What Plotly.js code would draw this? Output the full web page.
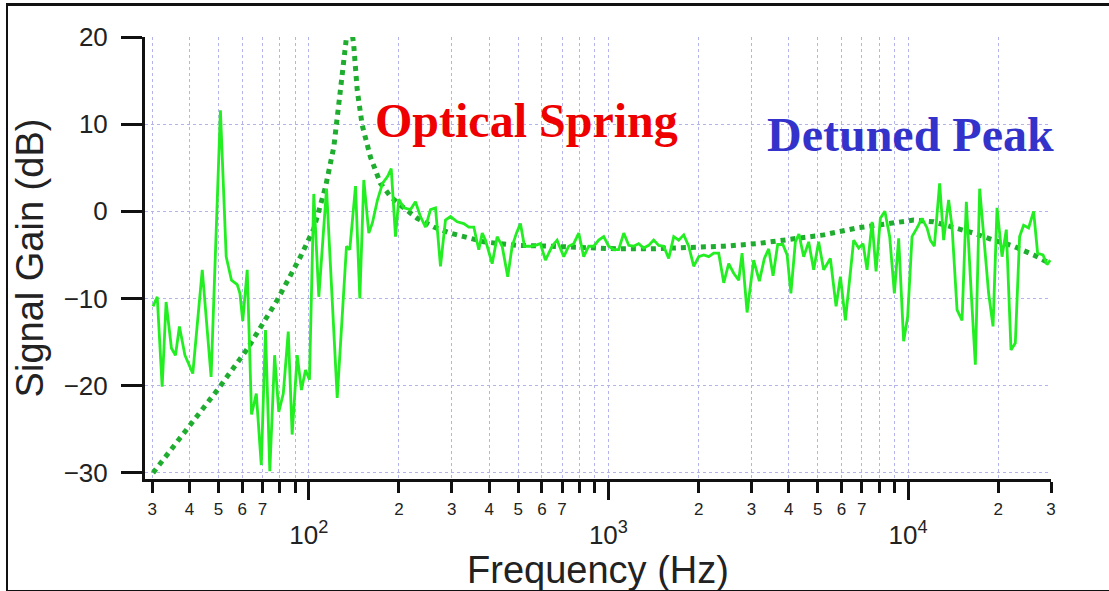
<!DOCTYPE html>
<html>
<head>
<meta charset="utf-8">
<script src="https://cdn.plot.ly/plotly-3.0.1.min.js"></script>
<style>
  html, body { margin: 0; padding: 0; background: #fff; }
  #wrap { position: relative; width: 1109px; height: 591px; overflow: hidden; }
  #chart { position: absolute; left: 0; top: 0; width: 1109px; height: 591px; }
  #frame { position: absolute; left: 6px; top: 3px; width: 1120px; height: 584px;
           border-top: 3px solid #111; border-left: 2px solid #111; border-bottom: 2px solid #111;
           pointer-events: none; }
</style>
</head>
<body>
<div id="wrap">
  <div id="chart"></div>
  <div id="frame"></div>
</div>
<script>
// Measured signal gain (green solid line)
const freqMeas = [30.2, 31.2, 32.4, 33.4, 34.8, 35.9, 37.0, 38.6, 41.0, 44.1, 47.2, 50.7, 53.0, 55.2, 57.7, 58.9, 60.2, 62.3, 64.4, 66.8,
  69.4, 71.7, 74.1, 76.9, 79.4, 82.2, 85.4, 88.0, 91.5, 94.5, 97.5, 100.5, 103.9, 108.0, 114.6, 124.4, 133.6, 137.0, 143.2, 148.0,
  152.6, 158.6, 163.1, 169.5, 176.2, 183.1, 188.4, 194.7, 199.7, 207.5, 218.5, 227.0, 235.9, 245.2, 254.8, 264.8, 275.1, 285.9, 297.1, 312.8,
  329.1, 342.0, 355.4, 369.3, 379.1, 388.8, 409.3, 425.3, 442.0, 461.3, 477.2, 493.2, 508.6, 524.5, 549.2, 570.7, 593.0, 616.2, 648.7, 674.1,
  709.4, 737.0, 766.0, 796.0, 827.1, 859.5, 893.2, 928.2, 964.5, 1002, 1042, 1082, 1125, 1169, 1214, 1262, 1311, 1363, 1416, 1472,
  1530, 1589, 1652, 1716, 1784, 1854, 1926, 2002, 2080, 2162, 2246, 2334, 2426, 2520, 2619, 2722, 2793, 2903, 3053, 3190,
  3315, 3427, 3544, 3672, 3821, 3948, 4064, 4207, 4322, 4485, 4660, 4842, 5031, 5229, 5505, 5752, 5946, 6179, 6586, 6843,
  7077, 7299, 7585, 7821, 8085, 8369, 8683, 9003, 9304, 9667, 9970, 10311, 10715, 11135, 11571, 11868, 12240, 12747, 13146, 13660,
  14026, 14575, 15144, 15652, 16229, 16774, 17339, 17976, 18577, 19217, 19815, 20591, 21281, 22063, 22803, 23570, 24305, 25259, 26249, 27067,
  28213, 29097, 29843];
const gainMeas = [-10.9, -9.8, -20.1, -10.4, -15.7, -16.5, -13.2, -16.5, -18.6, -6.7, -19.0, 11.6, -5.2, -7.9, -8.4, -9.4, -12.6, -6.7, -23.3, -20.9,
  -29.1, -13.6, -29.8, -16.5, -23.0, -20.9, -13.8, -25.6, -16.5, -20.5, -18.2, -19.3, 2.0, -9.8, 2.6, -21.4, -4.0, -4.4, 2.9, -10.0,
  3.6, -2.5, -1.3, 1.3, 3.2, 4.0, 4.9, -2.9, 1.4, 0.4, 0.2, 1.1, -0.6, -1.8, 0.2, 0.4, -6.3, -1.0, -0.6, -1.2,
  -1.4, -1.8, -1.8, -4.4, -2.5, -3.3, -6.0, -2.9, -4.0, -7.5, -4.0, -2.5, -1.4, -4.0, -4.0, -3.9, -3.7, -5.6, -4.0, -3.3,
  -5.2, -4.0, -3.7, -2.5, -5.2, -4.0, -4.0, -3.3, -2.9, -4.0, -4.4, -4.4, -2.5, -3.9, -4.0, -3.7, -4.2, -3.9, -3.3, -3.9,
  -4.0, -5.4, -2.9, -3.3, -2.7, -4.0, -6.3, -5.2, -5.0, -5.2, -4.8, -4.8, -8.2, -6.0, -7.1, -7.9, -4.8, -11.6, -5.6, -8.0,
  -5.4, -4.3, -7.4, -3.8, -3.8, -5.0, -9.4, -3.5, -2.6, -5.2, -3.5, -6.7, -3.5, -6.7, -5.4, -10.9, -7.5, -12.5, -3.3, -4.2,
  -3.7, -6.7, -1.2, -6.9, -0.8, 0.0, -2.9, -9.4, -3.1, -14.9, -12.1, -2.9, -1.9, -0.8, -1.9, -3.3, -4.0, 3.2, -3.3, 1.3,
  -1.8, -11.3, -12.5, 1.1, -9.0, -17.6, 2.6, -3.7, -9.4, -13.2, 0.4, -5.2, -2.1, -15.9, -15.1, -2.9, -1.6, -1.9, 0.0, -4.8,
  -5.0, -6.1, -5.6];

// Model curve (dark green dotted line)
const freqModel = [30.2, 39.3, 49.5, 62.3, 78.4, 93.8, 103.9, 113.7, 121.2, 127.6, 132.6, 136.7, 141.3, 145.1, 150.7, 156.7, 160.7, 173.5, 187.4, 202.3,
  230.0, 261.3, 297.1, 383.7, 495.9, 640.4, 827.1, 1069, 1381, 1784, 2426, 3135, 4049, 5229, 6760, 8085, 10440, 12173, 14199, 16560,
  19306, 22511, 26249, 29843];
const gainModel = [-30.0, -24.9, -20.5, -15.8, -10.2, -5.2, -2.0, 2.8, 7.4, 14.0, 19.0, 23.0, 19.0, 13.9, 9.9, 7.6, 6.2, 3.2, 1.7, 0.7,
  -0.8, -1.8, -2.5, -3.5, -3.9, -4.0, -4.2, -4.3, -4.3, -4.2, -4.0, -3.7, -3.2, -2.7, -1.9, -1.5, -1.0, -1.2, -1.8, -2.5,
  -3.3, -4.0, -5.0, -6.0];

// Axis ticks
const digitTickFreqs = [30, 40, 50, 60, 70, 200, 300, 400, 500, 600, 700,
  2000, 3000, 4000, 5000, 6000, 7000, 20000, 30000];
const digitTickText = ['3', '4', '5', '6', '7', '2', '3', '4', '5', '6', '7',
  '2', '3', '4', '5', '6', '7', '2', '3'];
const unlabelledTickFreqs = [80, 90, 800, 900, 8000, 9000];
const decadeFreqs = [100, 1000, 10000];
const decadeText = ['10<sup>2</sup>', '10<sup>3</sup>', '10<sup>4</sup>'];
const gainTicks = [-30, -20, -10, 0, 10, 20];

const xRange = [Math.log10(28.4), Math.log10(30000)];
const gridColor = '#b4b4ec';
const sans = '"Liberation Sans", Arial, sans-serif';
const serif = '"Liberation Serif", "Times New Roman", serif';

const traces = [
  {
    x: freqModel, y: gainModel, type: 'scatter', mode: 'lines',
    line: { color: '#1fad2f', width: 5, dash: 'dot' },
    hoverinfo: 'skip', showlegend: false
  },
  {
    x: freqMeas, y: gainMeas, type: 'scatter', mode: 'lines',
    line: { color: '#22ee22', width: 2.8 },
    hoverinfo: 'skip', showlegend: false
  },
  {
    x: [100], y: [null], xaxis: 'x2', yaxis: 'y', type: 'scatter', mode: 'lines',
    hoverinfo: 'skip', showlegend: false
  }
];

const layout = {
  width: 1109, height: 591,
  margin: { l: 145, r: 58, t: 37, b: 112 },
  paper_bgcolor: '#ffffff', plot_bgcolor: '#ffffff',
  showlegend: false,
  xaxis: {
    type: 'log', range: xRange,
    tickmode: 'array', tickvals: digitTickFreqs, ticktext: digitTickText,
    ticks: 'outside', ticklen: 11, tickwidth: 3, tickcolor: '#111',
    tickfont: { family: sans, size: 17, color: '#222' },
    ticklabelstandoff: 2,
    minor: {
      tickmode: 'array', tickvals: unlabelledTickFreqs,
      ticks: 'outside', ticklen: 11, tickwidth: 3, tickcolor: '#111',
      showgrid: true, gridcolor: gridColor, griddash: 'dot', gridwidth: 1
    },
    showline: true, linewidth: 3, linecolor: '#111',
    showgrid: true, gridcolor: gridColor, griddash: 'dot', gridwidth: 1,
    zeroline: false,
    title: { text: 'Frequency (Hz)', font: { family: sans, size: 38, color: '#222' }, standoff: 38 }
  },
  xaxis2: {
    type: 'log', range: xRange, overlaying: 'x', anchor: 'y', side: 'bottom',
    tickmode: 'array', tickvals: decadeFreqs, ticktext: decadeText,
    ticks: 'outside', ticklen: 20, tickwidth: 3, tickcolor: '#111',
    tickfont: { family: sans, size: 26, color: '#222' },
    ticklabelstandoff: 13,
    showline: false, zeroline: false,
    showgrid: true, gridcolor: gridColor, griddash: 'dot', gridwidth: 1
  },
  yaxis: {
    range: [-30.7, 20],
    tickmode: 'array', tickvals: gainTicks,
    ticks: 'outside', ticklen: 21, tickwidth: 3, tickcolor: '#111',
    tickfont: { family: sans, size: 26, color: '#222' },
    ticklabelstandoff: 8,
    showline: true, linewidth: 3, linecolor: '#111',
    showgrid: true, gridcolor: gridColor, griddash: 'dot', gridwidth: 1,
    zeroline: false,
    title: { text: 'Signal Gain (dB)', font: { family: sans, size: 38, color: '#222' }, standoff: 9 }
  },
  annotations: [
    {
      text: '<b>Optical Spring</b>', xref: 'paper', yref: 'paper', x: 0.421, y: 0.81,
      xanchor: 'center', yanchor: 'middle', showarrow: false,
      font: { family: serif, size: 48, color: '#ee0000' }
    },
    {
      text: '<b>Detuned Peak</b>', xref: 'paper', yref: 'paper', x: 0.845, y: 0.78,
      xanchor: 'center', yanchor: 'middle', showarrow: false,
      font: { family: serif, size: 48, color: '#3333cc' }
    }
  ]
};

Plotly.newPlot('chart', traces, layout, { staticPlot: true, displayModeBar: false });
</script>
</body>
</html>
